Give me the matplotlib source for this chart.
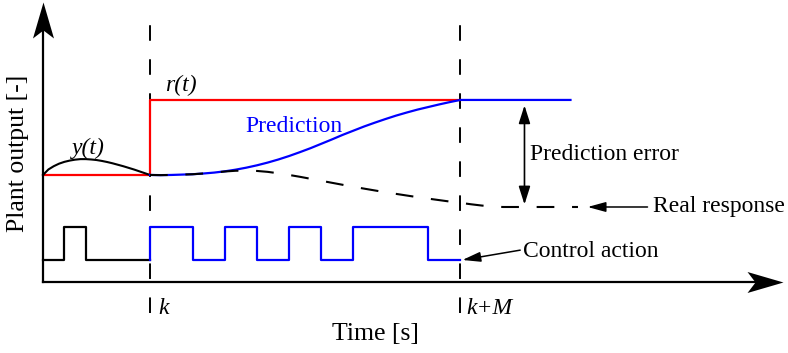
import matplotlib
matplotlib.use("Agg")
import matplotlib.pyplot as plt
from matplotlib.patches import FancyArrowPatch
from matplotlib.path import Path

plt.rcParams['font.family'] = ['Liberation Serif', 'DejaVu Serif']

# time instants
k = 10
k_M = 39
t_axis_end = 69.2
y_axis_end = 15.4

# past plant output y(t)
t_past = [0, 0.5, 1, 1.5, 2, 2.5, 3, 3.5, 4, 4.5, 5, 5.5, 6, 6.5, 7, 7.5, 8, 8.5, 9, 9.5, 10]
y_past = [5.88, 6.18, 6.36, 6.50, 6.60, 6.67, 6.72, 6.75, 6.75, 6.73, 6.70, 6.65, 6.59,
          6.52, 6.44, 6.36, 6.27, 6.18, 6.08, 5.98, 5.88]

# reference r(t)
t_ref = [0, 10, 10, 39]
r_ref = [5.88, 5.88, 10.0, 10.0]

# predicted output over the horizon, then held at the reference
t_pred = list(range(10, 40)) + [49.3]
y_pred = [5.88, 5.87, 5.88, 5.90, 5.92, 5.96, 6.01, 6.08, 6.17, 6.28, 6.41, 6.56, 6.73,
          6.92, 7.13, 7.35, 7.59, 7.83, 8.08, 8.31, 8.54, 8.75, 8.95, 9.14, 9.31, 9.47,
          9.61, 9.75, 9.88, 10.0, 10.0]

# real response of the plant
t_real = list(range(10, 44)) + [50]
y_real = [5.88, 5.87, 5.88, 5.90, 5.92, 5.96, 6.01, 6.07, 6.11, 6.12, 6.10, 6.05, 5.97,
          5.88, 5.78, 5.67, 5.56, 5.45, 5.34, 5.23, 5.13, 5.03, 4.93, 4.84, 4.75, 4.66,
          4.58, 4.50, 4.42, 4.35, 4.27, 4.20, 4.14, 4.12, 4.12]

# control action (two levels)
u_lo, u_hi = 1.2, 3.0
t_u_past = [0, 2, 4, 10]
u_past = [u_lo, u_hi, u_lo, u_lo]
t_u_next = [10, 10, 14, 17, 20, 23, 26, 29, 36, 39]
u_next = [u_lo, u_hi, u_lo, u_hi, u_lo, u_hi, u_lo, u_hi, u_lo, u_lo]

# stealth-style arrow heads, tip at the origin
head_x = Path([(0, 0), (-36, 10.5), (-28, 0), (-36, -10.5), (0, 0)],
              [Path.MOVETO, Path.LINETO, Path.LINETO, Path.LINETO, Path.CLOSEPOLY])
head_y = Path([(0, 0), (10.5, -36), (0, -28), (-10.5, -36), (0, 0)],
              [Path.MOVETO, Path.LINETO, Path.LINETO, Path.LINETO, Path.CLOSEPOLY])

fig = plt.figure(figsize=(7.88, 3.53), dpi=100)
ax = fig.add_axes([0, 0, 1, 1])
ax.set_xlim(-4.02, 69.63)
ax.set_ylim(-3.90, 15.49)
ax.axis('off')

# axes
ax.plot([0, t_axis_end - 2], [0, 0], color='black', lw=1.6, zorder=3)
ax.plot([0, 0], [0, y_axis_end - 1.2], color='black', lw=1.6, zorder=3)
ax.plot(t_axis_end, 0, marker=head_x, markersize=51.8, color='black', mew=0, zorder=4)
ax.plot(0, y_axis_end, marker=head_y, markersize=51.8, color='black', mew=0, zorder=4)

# dashed markers at k and k+M
ax.vlines([k, k_M], -1.7, 14.1, colors='black', lw=1.4, linestyles=(0, (8, 9.5)), zorder=1)

ax.plot(t_ref, r_ref, color='red', lw=1.6, zorder=2)
ax.plot(t_past, y_past, color='black', lw=1.5, zorder=2)
ax.plot(t_pred, y_pred, color='blue', lw=1.6, zorder=2)
ax.plot(t_real, y_real, color='black', lw=1.5, linestyle=(0, (8.5, 8.5)), zorder=3)

ax.plot(t_u_past, u_past, color='black', lw=1.6, drawstyle='steps-post', zorder=2)
ax.plot(t_u_next, u_next, color='blue', lw=1.6, drawstyle='steps-post', zorder=2)

# prediction error between reference and real response
ax.add_patch(FancyArrowPatch((45, 4.26), (45, 9.7), arrowstyle='<|-|>,head_length=11,head_width=3.5',
                             mutation_scale=1, lw=1.2, color='black', shrinkA=0, shrinkB=0))
# pointers to the curves
ax.add_patch(FancyArrowPatch((56.5, 4.12), (50.9, 4.12), arrowstyle='-|>,head_length=11,head_width=3',
                             mutation_scale=1, lw=1.1, color='black', shrinkA=0, shrinkB=0))
ax.add_patch(FancyArrowPatch((44.6, 1.75), (39.2, 1.21), arrowstyle='-|>,head_length=11,head_width=3',
                             mutation_scale=1, lw=1.1, color='black', shrinkA=0, shrinkB=0))

fs = 17
ax.text(11.4, 10.77, 'r(t)', fontsize=fs, style='italic', va='center', ha='left')
ax.text(2.7, 7.36, 'y(t)', fontsize=fs, style='italic', va='center', ha='left')
ax.text(18.9, 8.52, 'Prediction', fontsize=fs, color='blue', va='center', ha='left')
ax.text(45.5, 6.98, 'Prediction error', fontsize=fs, va='center', ha='left')
ax.text(57.0, 4.12, 'Real response', fontsize=fs, va='center', ha='left')
ax.text(44.9, 1.70, 'Control action', fontsize=fs, va='center', ha='left')
ax.text(10.75, -1.43, 'k', fontsize=fs, style='italic', va='center', ha='left')
ax.text(39.6, -1.43, 'k+M', fontsize=fs, style='italic', va='center', ha='left')

ax.text(31.1, -2.85, 'Time [s]', fontsize=18.5, va='center', ha='center')
ax.text(-2.34, 7.06, 'Plant output [-]', fontsize=18.5, rotation=90, va='center', ha='center')

fig.savefig('out.png', dpi=100)
